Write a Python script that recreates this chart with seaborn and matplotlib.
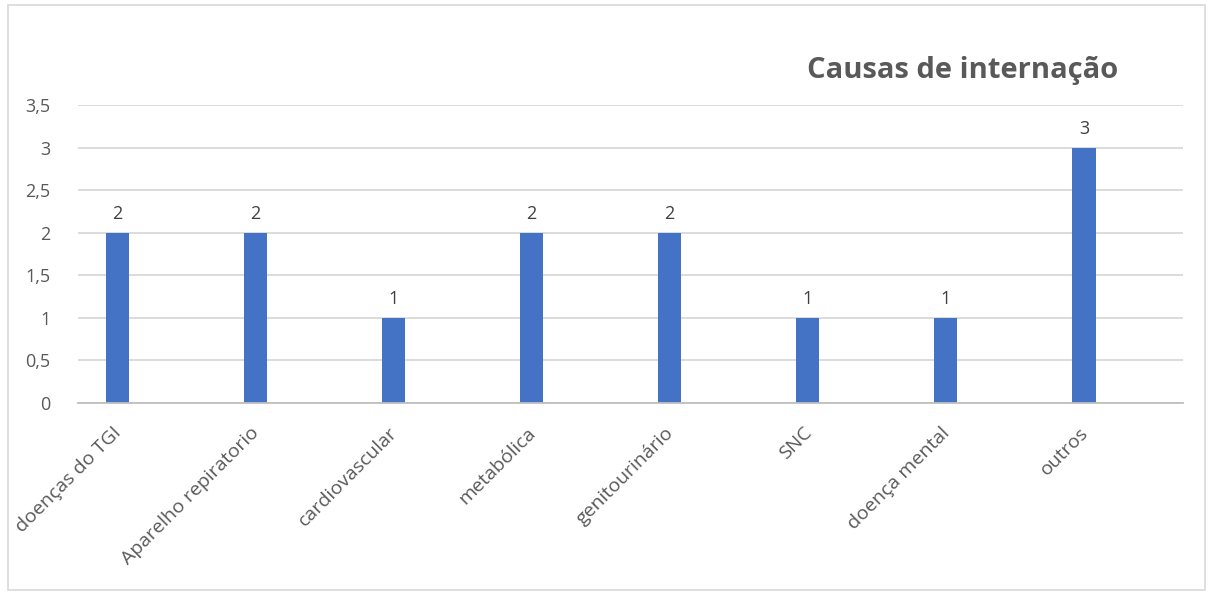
import matplotlib.pyplot as plt
import matplotlib.ticker as mticker
import matplotlib.transforms as mtrans
import pandas as pd
import seaborn as sns

categorias = ['doenças do TGI', 'Aparelho repiratorio', 'cardiovascular', 'metabólica',
              'genitourinário', 'SNC', 'doença mental', 'outros']
valores = [2, 2, 1, 2, 2, 1, 1, 3]

df = pd.DataFrame({'causa': categorias, 'n': valores})

sns.set_style('white')
plt.rcParams['font.family'] = ['Open Sans', 'DejaVu Sans']

fig = plt.figure(figsize=(12.09, 5.95), dpi=100)
ax = fig.add_axes([0.0645, 0.3227, 0.914, 0.5008])

sns.barplot(data=df, x='causa', y='n', color='#4472C4', width=0.167,
            saturation=1, linewidth=0, ax=ax)

ax.set_xlim(-0.283, 7.717)
ax.set_ylim(0, 3.5)
ax.yaxis.set_major_locator(mticker.MultipleLocator(0.5))
ax.yaxis.set_major_formatter(mticker.FuncFormatter(
    lambda v, p: ('%g' % v).replace('.', ',')))
ax.grid(axis='y', color='#D9D9D9', linewidth=1.3)
ax.set_axisbelow(True)
for s in ['top', 'right', 'left']:
    ax.spines[s].set_visible(False)
ax.spines['bottom'].set_color('#BFBFBF')
ax.spines['bottom'].set_linewidth(1.3)
ax.tick_params(axis='y', length=0, pad=20, labelsize=13, labelcolor='#595959')
ax.tick_params(axis='x', length=0, pad=15, labelsize=14, labelcolor='#595959')
ax.set_xlabel('')
ax.set_ylabel('')

off = mtrans.ScaledTranslation(-5 / 100, 0, fig.dpi_scale_trans)
for lbl in ax.get_xticklabels():
    lbl.set_rotation(45)
    lbl.set_ha('right')
    lbl.set_va('top')
    lbl.set_rotation_mode('anchor')
    lbl.set_transform(lbl.get_transform() + off)

for c in ax.containers:
    ax.bar_label(c, padding=7, fontsize=13, color='#404040')

fig.text(0.796, 0.882, 'Causas de internação', ha='center', va='center',
         fontsize=21, fontweight='bold', color='#595959')

fig.patches.append(plt.Rectangle((0.007, 0.008), 0.99, 0.984, transform=fig.transFigure,
                                 fill=False, edgecolor='#D9D9D9', linewidth=1.2))

fig.savefig('out.png', dpi=100)
